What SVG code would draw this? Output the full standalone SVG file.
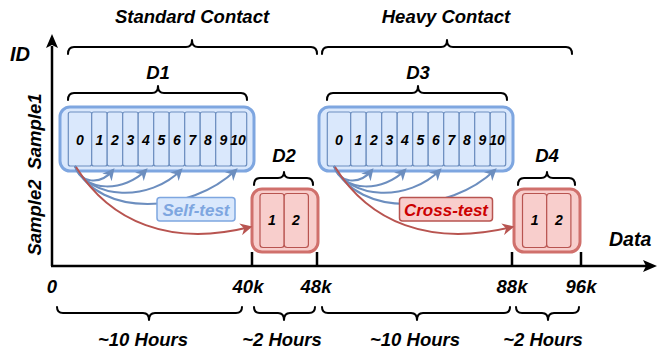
<svg xmlns="http://www.w3.org/2000/svg" width="662" height="350" viewBox="0 0 662 350">
<style>
.t{font-family:"Liberation Sans",Arial,sans-serif;font-weight:bold;font-style:italic;font-size:18.5px;fill:#000}
.n{font-family:"Liberation Sans",Arial,sans-serif;font-weight:bold;font-style:italic;font-size:14px;fill:#000;text-anchor:middle}
.m{text-anchor:middle}
.br{fill:none;stroke:#000;stroke-width:2;stroke-linejoin:round;stroke-linecap:round}
.ax{fill:none;stroke:#000;stroke-width:2.5}
.bo{fill:#dae8fc;stroke:#7ea6e0;stroke-width:3}
.bc{fill:#dae8fc;stroke:#6c8ebf;stroke-width:1.2}
.ro{fill:#f8cecc;stroke:#d0706c;stroke-width:3}
.rc{fill:#f8cecc;stroke:#b85450;stroke-width:1.2}
.ba{fill:none;stroke:#6c8ebf;stroke-width:2;marker-end:url(#ab)}
.ra{fill:none;stroke:#b85450;stroke-width:2;marker-end:url(#ar)}
</style>
<defs>
<marker id="ab" viewBox="0 0 10 10" refX="8" refY="5" markerWidth="6" markerHeight="6" orient="auto" markerUnits="strokeWidth"><path d="M0,0 L10,5 L0,10 L3,5 z" fill="#6c8ebf"/></marker>
<marker id="ar" viewBox="0 0 10 10" refX="8" refY="5" markerWidth="6" markerHeight="6" orient="auto" markerUnits="strokeWidth"><path d="M0,0 L10,5 L0,10 L3,5 z" fill="#b85450"/></marker>
</defs>
<rect width="662" height="350" fill="#fff"/>

<g id="axes">
<line class="ax" x1="52" y1="266" x2="52" y2="46"/>
<polygon points="52,34 46,48 52,45 58,48" fill="#000"/>
<line class="ax" x1="51" y1="266" x2="646" y2="266"/>
<polygon points="657,266 643,260 646,266 643,272" fill="#000"/>
<line class="ax" x1="252" y1="252" x2="252" y2="266"/>
<line class="ax" x1="317" y1="252" x2="317" y2="266"/>
<line class="ax" x1="512" y1="252" x2="512" y2="266"/>
<line class="ax" x1="581" y1="252" x2="581" y2="266"/>
<text class="t" x="10" y="61" style="font-size:20px">ID</text>
<text class="t" x="609" y="246" style="font-size:19.5px">Data</text>
<text class="t m" transform="translate(41,131.5) rotate(-90)">Sample1</text>
<text class="t m" transform="translate(41,217.5) rotate(-90)">Sample2</text>
<text class="t m" x="52" y="293">0</text>
<text class="t m" x="248" y="293">40k</text>
<text class="t m" x="316" y="293">48k</text>
<text class="t m" x="512" y="293">88k</text>
<text class="t m" x="581" y="293">96k</text>
</g>

<g id="top-braces">
<path class="br" d="M68,54 Q68,47 74,47 L186,47 Q192,47 192,40 Q192,47 198,47 L311,47 Q317,47 317,54"/>
<text class="t m" x="192" y="23">Standard Contact</text>
<path class="br" d="M322,54 Q322,47 328,47 L441,47 Q447,47 447,40 Q447,47 453,47 L566,47 Q572,47 572,54"/>
<text class="t m" x="446" y="23">Heavy Contact</text>
</g>

<g id="bottom-braces">
<path class="br" d="M57,307 Q57,313 63,313 L143,313 Q149,313 149,320 Q149,313 155,313 L236,313 Q242,313 242,307"/>
<text class="t m" x="143" y="346">~10 Hours</text>
<path class="br" d="M254,307 Q254,313 260,313 L278,313 Q284,313 284,320 Q284,313 290,313 L309,313 Q315,313 315,307"/>
<text class="t m" x="282" y="346">~2 Hours</text>
<path class="br" d="M322,307 Q322,313 328,313 L411,313 Q417,313 417,320 Q417,313 423,313 L504,313 Q510,313 510,307"/>
<text class="t m" x="415" y="346">~10 Hours</text>
<path class="br" d="M516,307 Q516,313 522,313 L542,313 Q548,313 548,320 Q548,313 554,313 L573,313 Q579,313 579,307"/>
<text class="t m" x="543" y="346">~2 Hours</text>
</g>

<g id="D1">
<path class="br" d="M68,100 Q68,93 74,93 L152,93 Q158,93 158,86 Q158,93 164,93 L241,93 Q247,93 247,100"/>
<text class="t m" x="158" y="79">D1</text>
<rect class="bo" x="60" y="107" width="194" height="64" rx="10"/>
<rect class="bc" x="68.3" y="112" width="23.4" height="54" rx="2"/>
<rect class="bc" x="91.7" y="112" width="15.5" height="54" rx="2"/>
<rect class="bc" x="107.2" y="112" width="15.5" height="54" rx="2"/>
<rect class="bc" x="122.7" y="112" width="15.5" height="54" rx="2"/>
<rect class="bc" x="138.2" y="112" width="15.5" height="54" rx="2"/>
<rect class="bc" x="153.7" y="112" width="15.5" height="54" rx="2"/>
<rect class="bc" x="169.2" y="112" width="15.5" height="54" rx="2"/>
<rect class="bc" x="184.7" y="112" width="15.5" height="54" rx="2"/>
<rect class="bc" x="200.2" y="112" width="15.5" height="54" rx="2"/>
<rect class="bc" x="215.7" y="112" width="15.5" height="54" rx="2"/>
<rect class="bc" x="231.2" y="112" width="15.5" height="54" rx="2"/>
<text class="n" x="80" y="145">0</text>
<text class="n" x="99.5" y="145">1</text>
<text class="n" x="115" y="145">2</text>
<text class="n" x="130.5" y="145">3</text>
<text class="n" x="146" y="145">4</text>
<text class="n" x="161.5" y="145">5</text>
<text class="n" x="177" y="145">6</text>
<text class="n" x="192.5" y="145">7</text>
<text class="n" x="208" y="145">8</text>
<text class="n" x="223.5" y="145">9</text>
<text class="n" x="238" y="145">10</text>
</g>

<g id="D2">
<path class="br" d="M254,185 Q254,178 260,178 L278,178 Q284,178 284,172 Q284,178 290,178 L307,178 Q313,178 313,185"/>
<text class="t m" x="284" y="162">D2</text>
<rect class="ro" x="252" y="189" width="66" height="63" rx="10"/>
<rect class="rc" x="260" y="193.5" width="24.2" height="54" rx="3"/>
<rect class="rc" x="284.2" y="193.5" width="24.2" height="54" rx="3"/>
<text class="n" x="272" y="225">1</text>
<text class="n" x="296" y="225">2</text>
</g>

<g id="D3" transform="translate(259,0)">
<path class="br" d="M68,100 Q68,93 74,93 L153,93 Q159,93 159,86 Q159,93 165,93 L242,93 Q248,93 248,100"/>
<text class="t m" x="159" y="79">D3</text>
<rect class="bo" x="60" y="107" width="194" height="64" rx="10"/>
<rect class="bc" x="68.3" y="112" width="23.4" height="54" rx="2"/>
<rect class="bc" x="91.7" y="112" width="15.5" height="54" rx="2"/>
<rect class="bc" x="107.2" y="112" width="15.5" height="54" rx="2"/>
<rect class="bc" x="122.7" y="112" width="15.5" height="54" rx="2"/>
<rect class="bc" x="138.2" y="112" width="15.5" height="54" rx="2"/>
<rect class="bc" x="153.7" y="112" width="15.5" height="54" rx="2"/>
<rect class="bc" x="169.2" y="112" width="15.5" height="54" rx="2"/>
<rect class="bc" x="184.7" y="112" width="15.5" height="54" rx="2"/>
<rect class="bc" x="200.2" y="112" width="15.5" height="54" rx="2"/>
<rect class="bc" x="215.7" y="112" width="15.5" height="54" rx="2"/>
<rect class="bc" x="231.2" y="112" width="15.5" height="54" rx="2"/>
<text class="n" x="80" y="145">0</text>
<text class="n" x="99.5" y="145">1</text>
<text class="n" x="115" y="145">2</text>
<text class="n" x="130.5" y="145">3</text>
<text class="n" x="146" y="145">4</text>
<text class="n" x="161.5" y="145">5</text>
<text class="n" x="177" y="145">6</text>
<text class="n" x="192.5" y="145">7</text>
<text class="n" x="208" y="145">8</text>
<text class="n" x="223.5" y="145">9</text>
<text class="n" x="238" y="145">10</text>
</g>

<g id="D4">
<path class="br" d="M518,185 Q518,178 524,178 L541,178 Q547,178 547,172 Q547,178 553,178 L569,178 Q575,178 575,185"/>
<text class="t m" x="547" y="162">D4</text>
<rect class="ro" x="514" y="189" width="66" height="63" rx="10"/>
<rect class="rc" x="522.5" y="193.5" width="24.2" height="54" rx="3"/>
<rect class="rc" x="546.7" y="193.5" width="24.2" height="54" rx="3"/>
<text class="n" x="534.6" y="225">1</text>
<text class="n" x="558.8" y="225">2</text>
</g>

<g id="connectors">
<path class="ba" d="M75,166 C80,183 100,186 113,170"/>
<path class="ba" d="M75,166 C84,193 125,192 146,170"/>
<path class="ba" d="M75,166 C90,200 150,202 181,170"/>
<path class="ba" d="M75,166 C100,218 190,214 236,170"/>
<path class="ra" d="M76,167 C110,222 170,247 250,227"/>
<g transform="translate(259,0)">
<path class="ba" d="M75,166 C80,183 100,186 113,170"/>
<path class="ba" d="M75,166 C84,193 125,192 146,170"/>
<path class="ba" d="M75,166 C90,200 150,202 181,170"/>
<path class="ba" d="M75,166 C100,218 190,214 236,170"/>
<path class="ra" d="M76,167 C110,222 170,247 253,227"/>
</g>
</g>

<g id="self-test">
<rect x="157" y="197.5" width="78" height="23.5" rx="3" fill="#dae8fc" stroke="#7ea6e0" stroke-width="1.5"/>
<text class="t m" x="196" y="215.5" style="fill:#7ea6e0;font-size:17px">Self-test</text>
</g>
<g id="cross-test">
<rect x="399.5" y="197.5" width="93" height="23.5" rx="3" fill="#f8cecc" stroke="#b85450" stroke-width="1.5"/>
<text class="t m" x="446" y="215.5" style="fill:#cc0000;font-size:17px">Cross-test</text>
</g>
</svg>
